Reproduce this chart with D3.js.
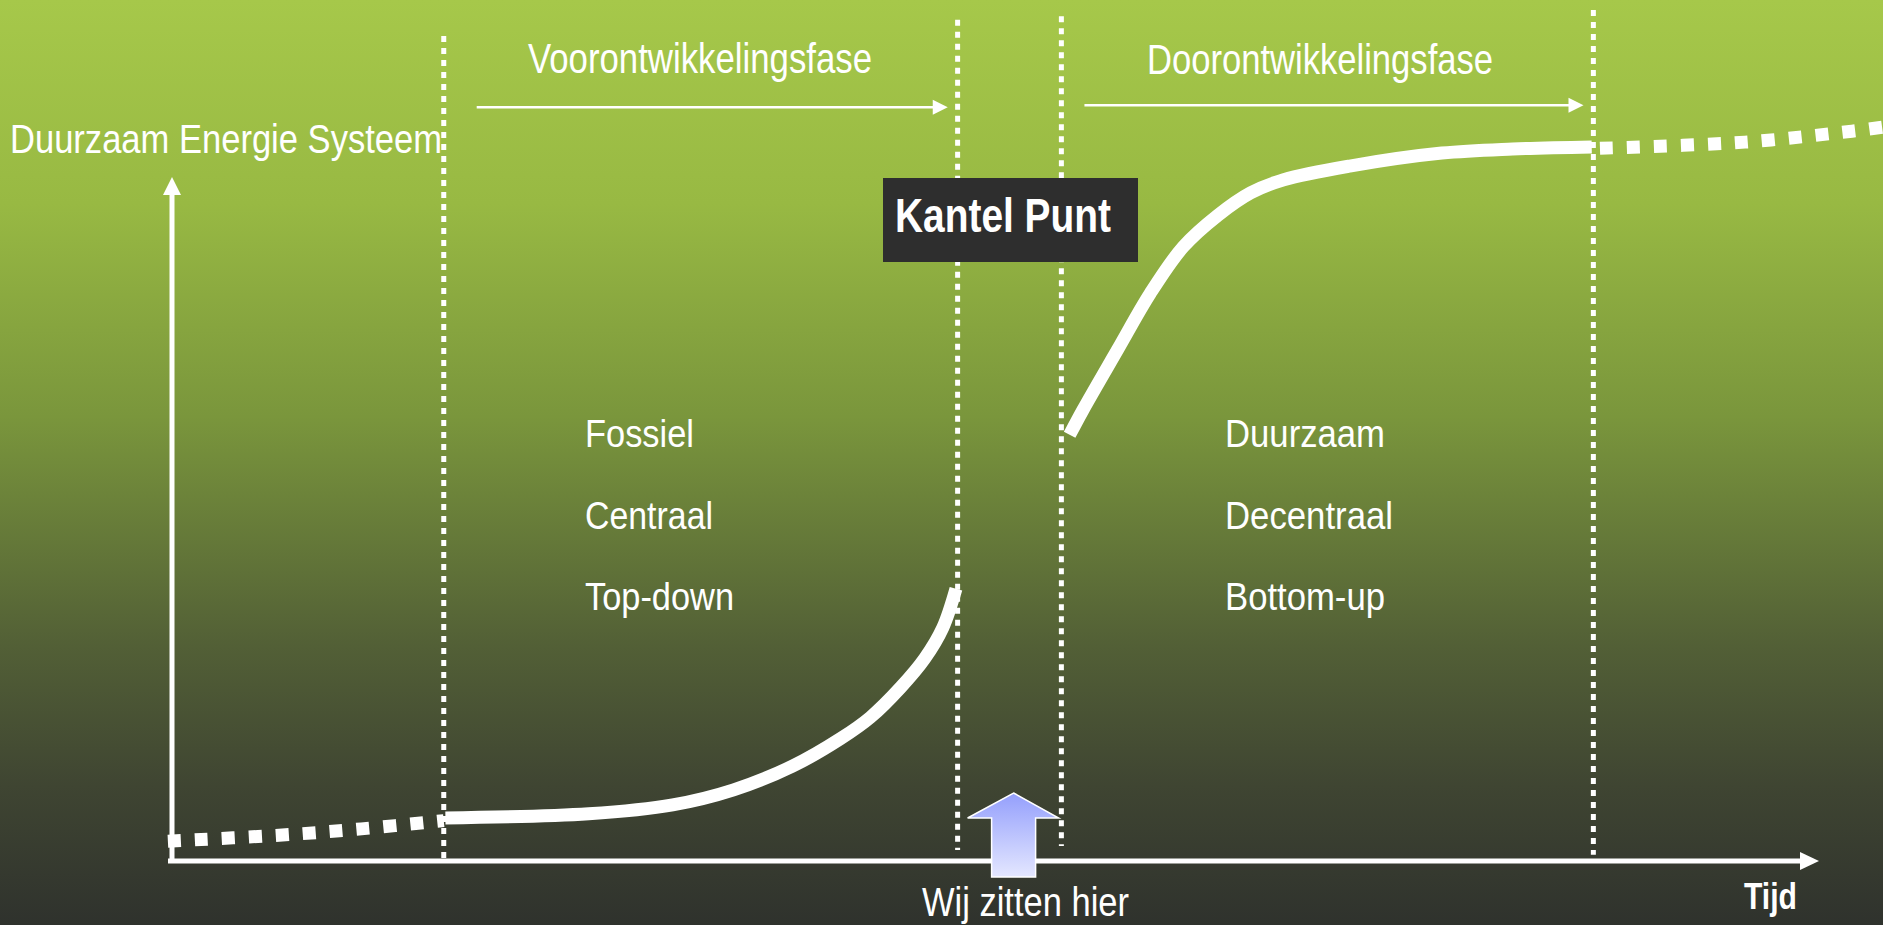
<!DOCTYPE html>
<html>
<head>
<meta charset="utf-8">
<script src="https://cdn.jsdelivr.net/npm/d3@7"></script>
<style>
  html, body { margin: 0; padding: 0; overflow: hidden; background: #30332e; }
  svg { display: block; }
</style>
</head>
<body>
<svg id="chart"></svg>
<script>
// time runs 0 (y axis) .. 100 (arrow tip), level runs 0 (x axis) .. 100 (y arrow tip)
const leadT = [-0.25, 6.7, 11.5, 16.5];
const leadV = [2.9, 3.8, 4.7, 5.9];
const fossilT = [16.6, 25.3, 30.4, 34.1, 37.7, 40.6, 42.4, 44.25, 45.7, 46.8, 47.6];
const fossilV = [6.3, 6.9, 8.2, 10.4, 13.9, 17.9, 21.0, 25.4, 29.6, 34.1, 39.8];
const renewT = [54.5, 55.3, 57.4, 59.4, 61.4, 63.5, 65.5, 67.5, 71.5, 77.1, 81.4, 86.2];
const renewV = [62.3, 65.9, 74.7, 83.0, 89.8, 94.4, 97.7, 99.6, 101.6, 103.5, 104.1, 104.4];
const tailT = [86.7, 95.5, 102.0, 103.9];
const tailV = [104.2, 105.1, 106.7, 107.3];

const dividerT = [16.5, 47.7, 54.0, 86.3];
const dividerTop = [120.6, 123.0, 123.5, 124.4];
const dividerBottom = [0.3, 1.6, 2.2, 0.9];

const phaseNames = ["Voorontwikkelingsfase", "Doorontwikkelingsfase"];
const phaseFrom = [18.5, 55.4];
const phaseTo = [47.1, 85.7];
const phaseLevel = [110.2, 110.5];

const leftTraits = ["Fossiel", "Centraal", "Top-down"];
const rightTraits = ["Duurzaam", "Decentraal", "Bottom-up"];
const nowT = 51.1;

const W = 1883, H = 925;
const FONT = "'Liberation Sans Narrow', 'Liberation Sans', Arial, sans-serif";

const SVG = d3.select("#chart").attr("width", W).attr("height", H);
const defs = SVG.append("defs");

// background
const bg = defs.append("linearGradient").attr("id", "bg")
  .attr("x1", 0).attr("y1", 0).attr("x2", 0).attr("y2", 1);
[[0, "#a6c84a"], [0.22, "#98b943"], [0.45, "#7a963c"], [0.7, "#525f36"], [0.85, "#3f4532"], [1, "#2f322d"]]
  .forEach(([o, c]) => bg.append("stop").attr("offset", o).attr("stop-color", c));
SVG.append("rect").attr("width", W).attr("height", H).attr("fill", "url(#bg)");

const blue = defs.append("linearGradient").attr("id", "blueArrow")
  .attr("x1", 0).attr("y1", 0).attr("x2", 0).attr("y2", 1);
blue.append("stop").attr("offset", 0).attr("stop-color", "#949ffc");
blue.append("stop").attr("offset", 1).attr("stop-color", "#e4e7ff");

// scales
const X = d3.scaleLinear().domain([0, 100]).range([172, 1819]);
const Y = d3.scaleLinear().domain([0, 100]).range([861, 177]);

const line = d3.line().x((d) => X(d[0])).y((d) => Y(d[1])).curve(d3.curveCatmullRom.alpha(0.5));
const zip = (a, b) => a.map((v, i) => [v, b[i]]);

// dotted dividers
SVG.append("g").selectAll("line")
  .data(dividerT)
  .join("line")
  .attr("x1", (d) => X(d)).attr("x2", (d) => X(d))
  .attr("y1", (d, i) => Y(dividerTop[i]))
  .attr("y2", (d, i) => Y(dividerBottom[i]))
  .attr("stroke", "#fff")
  .attr("stroke-width", 5)
  .attr("stroke-dasharray", "6 6");

// axes
const axisG = SVG.append("g").attr("fill", "#fff").attr("stroke", "#fff");
axisG.append("line")
  .attr("x1", X(0)).attr("x2", X(0))
  .attr("y1", Y(0)).attr("y2", Y(100) + 14)
  .attr("stroke-width", 5);
axisG.append("path")
  .attr("stroke", "none")
  .attr("d", `M${X(0)},${Y(100)} L${X(0) - 9},${Y(100) + 18} L${X(0) + 9},${Y(100) + 18} Z`);
axisG.append("line")
  .attr("x1", X(0) - 4).attr("x2", X(100) - 15)
  .attr("y1", Y(0)).attr("y2", Y(0))
  .attr("stroke-width", 5);
axisG.append("path")
  .attr("stroke", "none")
  .attr("d", `M${X(100)},${Y(0)} L${X(100) - 19},${Y(0) - 9} L${X(100) - 19},${Y(0) + 9} Z`);

// phase arrows
const phaseG = SVG.append("g").selectAll("g").data(phaseNames).join("g");
phaseG.append("line")
  .attr("x1", (d, i) => X(phaseFrom[i]))
  .attr("x2", (d, i) => X(phaseTo[i]) - 12)
  .attr("y1", (d, i) => Y(phaseLevel[i]))
  .attr("y2", (d, i) => Y(phaseLevel[i]))
  .attr("stroke", "#fff").attr("stroke-width", 2.5);
phaseG.append("path")
  .attr("fill", "#fff")
  .attr("d", (d, i) => {
    const x = X(phaseTo[i]), y = Y(phaseLevel[i]);
    return `M${x},${y} L${x - 15},${y - 7.5} L${x - 15},${y + 7.5} Z`;
  });

// curves
SVG.append("path")
  .attr("d", line(zip(leadT, leadV)))
  .attr("fill", "none").attr("stroke", "#fff")
  .attr("stroke-width", 13).attr("stroke-dasharray", "13 14");
SVG.append("path")
  .attr("d", line(zip(fossilT, fossilV)))
  .attr("fill", "none").attr("stroke", "#fff").attr("stroke-width", 13);
SVG.append("path")
  .attr("d", line(zip(renewT, renewV)))
  .attr("fill", "none").attr("stroke", "#fff").attr("stroke-width", 13);
SVG.append("path")
  .attr("d", line(zip(tailT, tailV)))
  .attr("fill", "none").attr("stroke", "#fff")
  .attr("stroke-width", 13).attr("stroke-dasharray", "13 14");

// "we are here" block arrow
const nx = X(nowT);
SVG.append("path")
  .attr("d", `M${nx},793 L${nx + 45},818 L${nx + 22},818 L${nx + 22},877 L${nx - 22},877 L${nx - 22},818 L${nx - 46},818 Z`)
  .attr("fill", "url(#blueArrow)")
  .attr("stroke", "#fff").attr("stroke-width", 1.5);

// Kantel Punt box
SVG.append("rect")
  .attr("x", 883).attr("y", 178).attr("width", 255).attr("height", 84)
  .attr("fill", "#2e2e2e");

// texts
function label(txt, x, y, size, len, weight) {
  SVG.append("text")
    .attr("x", x).attr("y", y)
    .attr("fill", "#fff")
    .attr("font-family", FONT)
    .attr("font-size", size)
    .attr("font-weight", weight || "normal")
    .attr("textLength", len)
    .attr("lengthAdjust", "spacingAndGlyphs")
    .text(txt);
}

label("Duurzaam Energie Systeem", 10, 153, 41, 432);
label(phaseNames[0], 528, 73, 43, 344);
label(phaseNames[1], 1147, 74, 43, 346);
label("Kantel Punt", 895, 232, 48, 216, "bold");
label("Wij zitten hier", 922, 916, 41, 207);
label("Tijd", 1744, 909, 37, 53, "bold");

const rowsY = [447, 529, 610];
const leftLen = [109, 128, 149];
const rightLen = [160, 168, 160];
leftTraits.forEach((t, i) => label(t, 585, rowsY[i], 38, leftLen[i]));
rightTraits.forEach((t, i) => label(t, 1225, rowsY[i], 38, rightLen[i]));
</script>
</body>
</html>
